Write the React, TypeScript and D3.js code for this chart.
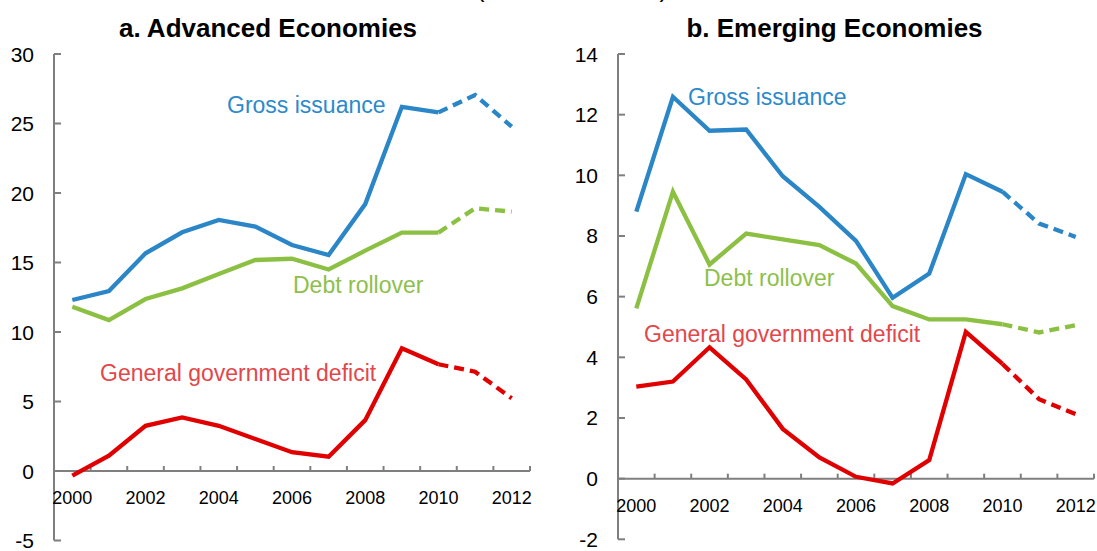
import React from "react";
import * as d3 from "d3";

const years = ["2000","2001","2002","2003","2004","2005","2006","2007","2008","2009","2010","2011","2012"];
const xTickLabels = ["2000","2002","2004","2006","2008","2010","2012"];

const advGross = [12.3, 12.95, 15.66, 17.17, 18.06, 17.58, 16.26, 15.54, 19.2, 26.2, 25.8, 27.05, 24.77];
const advDebt = [11.82, 10.86, 12.37, 13.14, 14.17, 15.18, 15.27, 14.5, 15.85, 17.15, 17.15, 18.9, 18.66];
const advDeficit = [-0.33, 1.1, 3.25, 3.85, 3.25, 2.3, 1.35, 1.03, 3.66, 8.83, 7.68, 7.14, 5.23];
const advTicks = [-5, 0, 5, 10, 15, 20, 25, 30];

const emGross = [8.8, 12.59, 11.47, 11.51, 9.97, 8.96, 7.84, 5.96, 6.76, 10.04, 9.46, 8.41, 7.97];
const emDebt = [5.61, 9.46, 7.06, 8.08, 7.89, 7.7, 7.09, 5.69, 5.25, 5.25, 5.09, 4.82, 5.06];
const emDeficit = [3.03, 3.2, 4.33, 3.27, 1.64, 0.7, 0.06, -0.16, 0.61, 4.84, 3.78, 2.62, 2.13];
const emTicks = [-2, 0, 2, 4, 6, 8, 10, 12, 14];

const FONT = "'Liberation Sans', Arial, Helvetica, sans-serif";
const BLUE = "#2A86C6";
const GREEN = "#8CC043";
const RED = "#E00000";
const AXIS = "#7F7F7F";

type Label = { text: string; x: number; y: number; color: string };

function Panel(props: {
  x0: number; width: number; yTop: number; yBottom: number;
  domain: [number, number]; ticks: number[];
  gross: number[]; debt: number[]; deficit: number[];
  title: string; titleX: number; labels: Label[];
}) {
  const { x0, width, yTop, yBottom, domain, ticks, gross, debt, deficit, title, titleX, labels } = props;
  const x = d3.scaleBand<string>().domain(years).range([x0, x0 + width]).padding(0);
  const y = d3.scaleLinear().domain(domain).range([yBottom, yTop]);
  const cx = (i: number) => (x(years[i]) as number) + x.bandwidth() / 2;
  const solidIdx = 10; // solid through 2010, dashed after
  const seg = (arr: number[], dashed: boolean) => {
    const pts = arr.map((v, i) => [i, v] as [number, number]);
    const sel = dashed ? pts.filter((p) => p[0] >= solidIdx) : pts.filter((p) => p[0] <= solidIdx);
    return d3.line<[number, number]>().x((p) => cx(p[0])).y((p) => y(p[1]))(sel) || "";
  };
  const y0 = y(0);
  const series = [
    { data: gross, color: BLUE },
    { data: debt, color: GREEN },
    { data: deficit, color: RED },
  ];
  return (
    <g>
      <text x={titleX} y={37} textAnchor="middle" fontFamily={FONT} fontWeight="bold" fontSize={26} fill="#000">{title}</text>
      <line x1={x0} x2={x0} y1={y(domain[1])} y2={y(domain[0])} stroke={AXIS} strokeWidth={2} />
      {ticks.map((t) => (
        <g key={t}>
          <line x1={x0} x2={x0 + 7} y1={y(t)} y2={y(t)} stroke={AXIS} strokeWidth={2} />
          <text x={x0 - 20} y={y(t) + 7.5} textAnchor="end" fontFamily={FONT} fontSize={21} fill="#000">{t}</text>
        </g>
      ))}
      <line x1={x0} x2={x0 + width} y1={y0} y2={y0} stroke={AXIS} strokeWidth={2} />
      {years.map((yr) => (
        <line key={yr} x1={x(yr) as number} x2={x(yr) as number} y1={y0} y2={y0 - 5} stroke={AXIS} strokeWidth={2} />
      ))}
      <line x1={x0 + width} x2={x0 + width} y1={y0} y2={y0 - 5} stroke={AXIS} strokeWidth={2} />
      {xTickLabels.map((lab) => (
        <text key={lab} x={cx(years.indexOf(lab))} y={y0 + 33} textAnchor="middle" fontFamily={FONT} fontSize={18} fill="#000">{lab}</text>
      ))}
      {series.map((s, k) => (
        <g key={k}>
          <path d={seg(s.data, false)} fill="none" stroke={s.color} strokeWidth={4.3} strokeLinejoin="miter" />
          <path d={seg(s.data, true)} fill="none" stroke={s.color} strokeWidth={4.3} strokeDasharray="10,6" />
        </g>
      ))}
      {labels.map((l) => (
        <text key={l.text} x={l.x} y={l.y} fontFamily={FONT} fontSize={23} fill={l.color}>{l.text}</text>
      ))}
    </g>
  );
}

export default function App() {
  return (
    <svg width={1097} height={551} style={{ position: "absolute", left: 0, top: 0, background: "#fff" }}>
      <rect x={0} y={0} width={1097} height={551} fill="#fff" />
      <text x={572} y={-3.5} textAnchor="middle" fontFamily={FONT} fontSize={25} fill="#000">(Percent of GDP)</text>
      <Panel
        x0={54} width={476} yTop={54} yBottom={540.5} domain={[-5, 30]} ticks={advTicks}
        gross={advGross} debt={advDebt} deficit={advDeficit}
        title="a. Advanced Economies" titleX={268}
        labels={[
          { text: "Gross issuance", x: 227, y: 113, color: "#2C89CB" },
          { text: "Debt rollover", x: 293, y: 293, color: "#8DC04A" },
          { text: "General government deficit", x: 100, y: 380.5, color: "#E2474B" },
        ]}
      />
      <Panel
        x0={618} width={476} yTop={54} yBottom={539.3} domain={[-2, 14]} ticks={emTicks}
        gross={emGross} debt={emDebt} deficit={emDeficit}
        title="b. Emerging Economies" titleX={834.5}
        labels={[
          { text: "Gross issuance", x: 688, y: 105, color: "#2C89CB" },
          { text: "Debt rollover", x: 704, y: 285.5, color: "#8DC04A" },
          { text: "General government deficit", x: 644, y: 342, color: "#E2474B" },
        ]}
      />
    </svg>
  );
}
